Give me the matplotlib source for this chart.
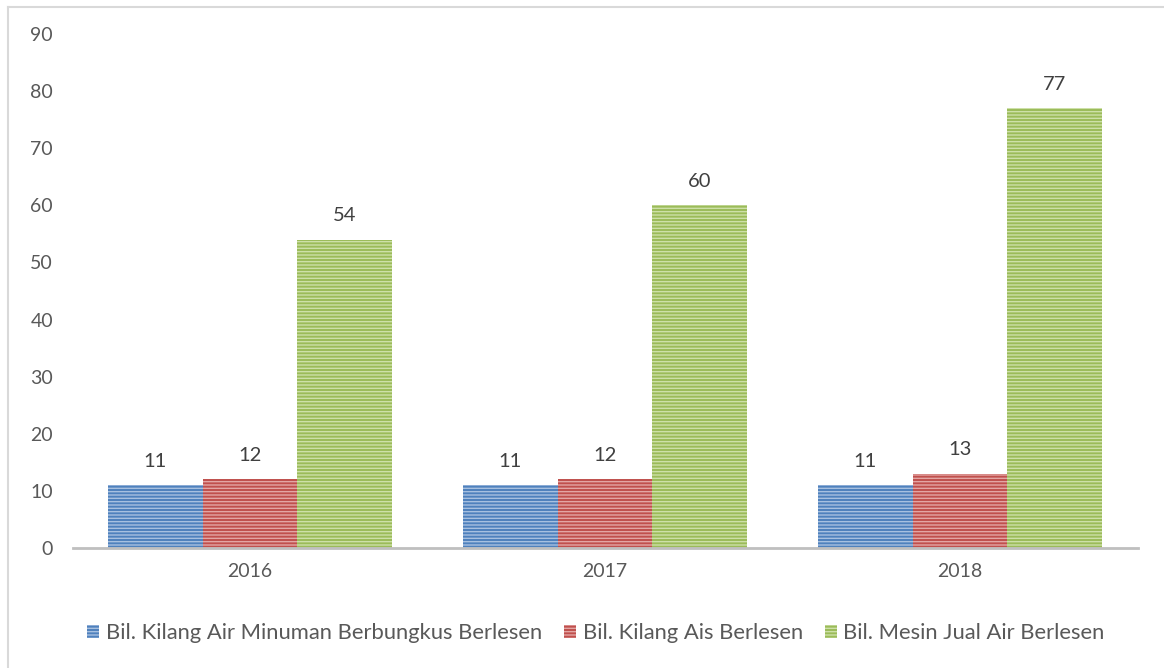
import matplotlib
matplotlib.use("Agg")
import matplotlib.pyplot as plt
import numpy as np
from matplotlib.lines import Line2D
from matplotlib.patches import Patch

plt.rcParams['font.family'] = ['Lato', 'DejaVu Sans']
plt.rcParams['hatch.linewidth'] = 1.0

years = ["2016", "2017", "2018"]
series_names = ["Bil. Kilang Air Minuman Berbungkus Berlesen",
                "Bil. Kilang Ais Berlesen",
                "Bil. Mesin Jual Air Berlesen"]
kilang_air = [11, 11, 11]
kilang_ais = [12, 12, 13]
mesin_jual = [54, 60, 77]
series = [kilang_air, kilang_ais, mesin_jual]
colors = ["#4F81BD", "#C0504D", "#9BBB59"]
stripe_colors = ["#A7C0E0", "#E3A6A4", "#CDE0A8"]
yticks = [0, 10, 20, 30, 40, 50, 60, 70, 80, 90]

W, H = 1164, 668
fig = plt.figure(figsize=(W / 100, H / 100), dpi=100)
ax = fig.add_axes([72.5 / W, 1 - 548 / H, (1137.5 - 72.5) / W, (548 - 34) / H])

x = np.arange(len(years))
bw = 0.8 / 3
text_color = "#595959"
for i, (vals, c, sc) in enumerate(zip(series, colors, stripe_colors)):
    pos = x + (i - 1) * bw
    ax.bar(pos, vals, width=bw, color=c, linewidth=0, zorder=2)
    ax.bar(pos, vals, width=bw, facecolor='none', edgecolor=sc, linewidth=0,
           hatch='-----', zorder=3)
    for p, v in zip(pos, vals):
        ax.annotate(str(v), (p, v), xytext=(0, 11), textcoords='offset points',
                    ha='center', va='bottom', fontsize=14.5, color="#404040")

ax.set_xlim(-0.5, len(years) - 0.5)
ax.set_ylim(0, 90)
ax.set_yticks(yticks)
ax.set_xticks(x)
ax.set_xticklabels(years)
ax.tick_params(axis='both', length=0, labelsize=14, labelcolor=text_color)
ax.tick_params(axis='y', pad=14)
ax.tick_params(axis='x', pad=11)
for s in ['top', 'right', 'left']:
    ax.spines[s].set_visible(False)
ax.spines['bottom'].set_color("#BFBFBF")
ax.spines['bottom'].set_linewidth(2)
ax.spines['bottom'].set_zorder(4)

handles = [Patch(facecolor=c, edgecolor=sc, hatch='-----', linewidth=0)
           for c, sc in zip(colors, stripe_colors)]
leg = fig.legend(handles, series_names, loc='center', bbox_to_anchor=(0.512, 1 - 633 / H),
                 ncol=3, frameon=False, fontsize=15.8, handlelength=0.55, handleheight=0.55,
                 handletextpad=0.3, columnspacing=1.0)
for t in leg.get_texts():
    t.set_color(text_color)

# outer border lines (left and top)
fig.add_artist(Line2D([8 / W, 8 / W], [0, 1 - 7 / H], transform=fig.transFigure,
                      color="#D9D9D9", linewidth=1.5))
fig.add_artist(Line2D([8 / W, 1], [1 - 7 / H, 1 - 7 / H], transform=fig.transFigure,
                      color="#D9D9D9", linewidth=1.5))

fig.savefig("out.png", dpi=100)
